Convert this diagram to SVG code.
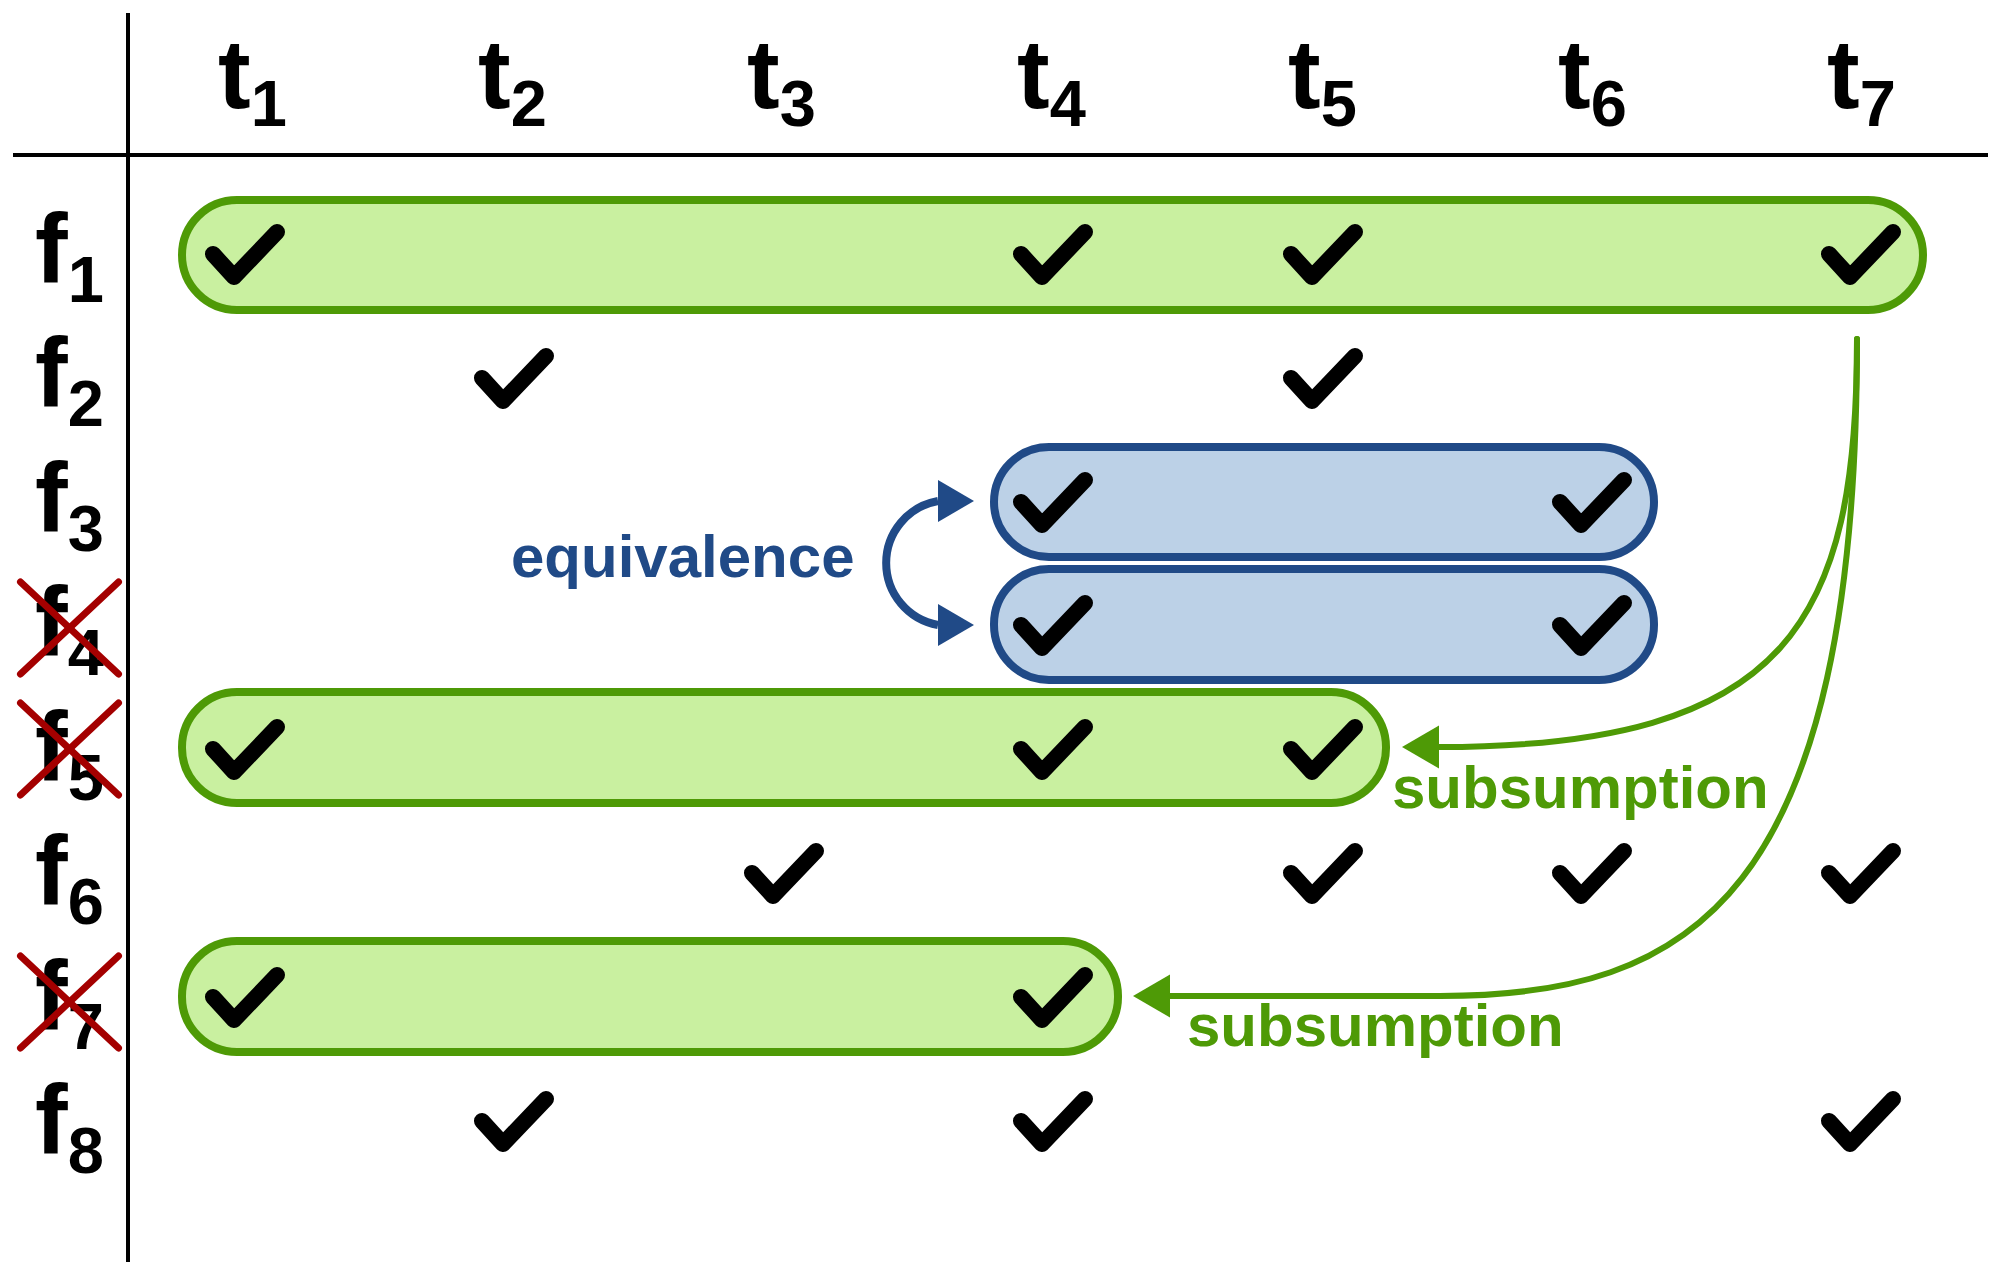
<svg xmlns="http://www.w3.org/2000/svg" xmlns:xlink="http://www.w3.org/1999/xlink" width="2000" height="1276" viewBox="0 0 2000 1276">
<style>
.lbl{font-family:"Liberation Sans",Arial,sans-serif;font-weight:bold;font-size:98px;fill:#000}
.sub{font-size:65px}
.axis{stroke:#000;stroke-width:4;fill:none}
.pg{fill:#c9f0a0;stroke:#4e9a06;stroke-width:8}
.pb{fill:#bcd1e7;stroke:#204a87;stroke-width:8}
.cross{stroke:#a40000;stroke-width:7;stroke-linecap:round;fill:none}
.ctext{font-family:"Liberation Sans",Arial,sans-serif;font-weight:bold;font-size:60px}
.gtext{fill:#4e9a06}
.btext{fill:#204a87}
.cg{fill:none;stroke:#4e9a06;stroke-width:6;stroke-linecap:round}
.cb{fill:none;stroke:#204a87;stroke-width:8}
</style>
<defs>
<path id="chk" d="M-33,1 L-12,24 L31,-21" fill="none" stroke="#000" stroke-width="16" stroke-linecap="round" stroke-linejoin="round"/>
<marker id="ag" markerUnits="userSpaceOnUse" markerWidth="40" markerHeight="44" refX="0" refY="21.5" orient="auto">
<path d="M0,0 L37,21.5 L0,43 Z" fill="#4e9a06"/>
</marker>
<marker id="ab" markerUnits="userSpaceOnUse" markerWidth="40" markerHeight="44" refX="0" refY="21" orient="0">
<path d="M0,0 L36,21 L0,42 Z" fill="#204a87"/>
</marker>
</defs>
<rect width="2000" height="1276" fill="#fff"/>
<g id="axes">
<line class="axis" x1="13" y1="155" x2="1988" y2="155"/>
<line class="axis" x1="128" y1="13" x2="128" y2="1262"/>
</g>
<g id="header">
<text class="lbl" x="218" y="108">t<tspan class="sub" dy="18">1</tspan></text>
<text class="lbl" x="478" y="108">t<tspan class="sub" dy="18">2</tspan></text>
<text class="lbl" x="747" y="108">t<tspan class="sub" dy="18">3</tspan></text>
<text class="lbl" x="1017" y="108">t<tspan class="sub" dy="18">4</tspan></text>
<text class="lbl" x="1288" y="108">t<tspan class="sub" dy="18">5</tspan></text>
<text class="lbl" x="1558" y="108">t<tspan class="sub" dy="18">6</tspan></text>
<text class="lbl" x="1827" y="108">t<tspan class="sub" dy="18">7</tspan></text>
</g>
<g id="row-f1">
<text class="lbl" x="35" y="282">f<tspan class="sub" dy="20">1</tspan></text>
<rect class="pg" x="182" y="200" width="1741" height="110" rx="55"/>
<use href="#chk" x="246" y="253"/><use href="#chk" x="1054" y="253"/><use href="#chk" x="1324" y="253"/><use href="#chk" x="1862" y="253"/>
</g>
<g id="row-f2">
<text class="lbl" x="35" y="406">f<tspan class="sub" dy="20">2</tspan></text>
<use href="#chk" x="515" y="377"/><use href="#chk" x="1324" y="377"/>
</g>
<g id="row-f3">
<text class="lbl" x="35" y="531">f<tspan class="sub" dy="20">3</tspan></text>
<rect class="pb" x="994" y="447" width="660" height="110" rx="55"/>
<use href="#chk" x="1054" y="501"/><use href="#chk" x="1593" y="501"/>
</g>
<g id="row-f4">
<text class="lbl" x="35" y="655">f<tspan class="sub" dy="20">4</tspan></text>
<line class="cross" x1="20.5" y1="582" x2="118.5" y2="674"/><line class="cross" x1="118.5" y1="582" x2="20.5" y2="674"/>
<rect class="pb" x="994" y="569" width="660" height="111" rx="55"/>
<use href="#chk" x="1054" y="624"/><use href="#chk" x="1593" y="624"/>
</g>
<g id="row-f5">
<text class="lbl" x="35" y="780">f<tspan class="sub" dy="20">5</tspan></text>
<line class="cross" x1="20.5" y1="703" x2="118.5" y2="795"/><line class="cross" x1="118.5" y1="703" x2="20.5" y2="795"/>
<rect class="pg" x="182" y="692" width="1204" height="111" rx="55"/>
<use href="#chk" x="246" y="748"/><use href="#chk" x="1054" y="748"/><use href="#chk" x="1324" y="748"/>
</g>
<g id="row-f6">
<text class="lbl" x="35" y="904">f<tspan class="sub" dy="20">6</tspan></text>
<use href="#chk" x="785" y="872"/><use href="#chk" x="1324" y="872"/><use href="#chk" x="1593" y="872"/><use href="#chk" x="1862" y="872"/>
</g>
<g id="row-f7">
<text class="lbl" x="35" y="1029">f<tspan class="sub" dy="20">7</tspan></text>
<line class="cross" x1="20.5" y1="956" x2="118.5" y2="1048"/><line class="cross" x1="118.5" y1="956" x2="20.5" y2="1048"/>
<rect class="pg" x="182" y="941" width="936" height="111" rx="55"/>
<use href="#chk" x="246" y="996"/><use href="#chk" x="1054" y="996"/>
</g>
<g id="row-f8">
<text class="lbl" x="35" y="1153">f<tspan class="sub" dy="20">8</tspan></text>
<use href="#chk" x="515" y="1120"/><use href="#chk" x="1054" y="1120"/><use href="#chk" x="1862" y="1120"/>
</g>
<g id="connectors">
<path class="cb" d="M938,501 A63,63 0 0 0 938,625" marker-start="url(#ab)" marker-end="url(#ab)"/>
<path class="cg" d="M1857,339 C1857,620 1790,747 1439,747" marker-end="url(#ag)"/>
<path class="cg" d="M1857,339 C1857,900 1690,996 1440,996 L1170,996" marker-end="url(#ag)"/>
<text class="ctext btext" x="511" y="577">equivalence</text>
<text class="ctext gtext" x="1392" y="808">subsumption</text>
<text class="ctext gtext" x="1187" y="1046">subsumption</text>
</g>
</svg>
